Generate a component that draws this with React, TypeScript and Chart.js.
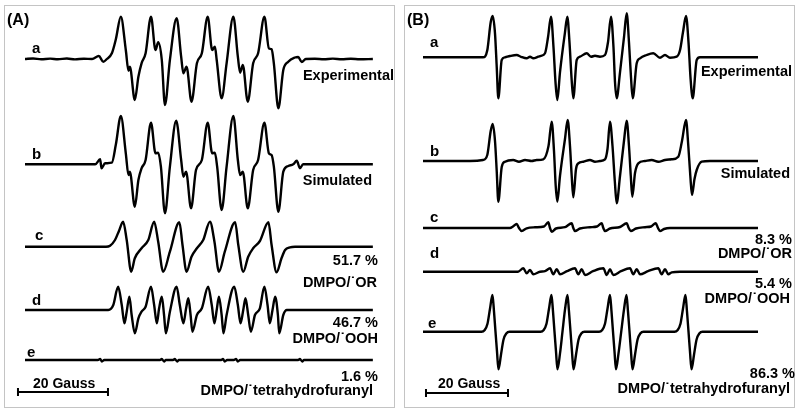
import React, { useEffect, useRef } from "react";
import { Chart, registerables } from "chart.js";

Chart.register(...registerables);

// ---------------- Panel A (4.5 px per Gauss) ----------------
// field positions in Gauss (from start of sweep), intensities in a.u.
const A_A_FIELD = [0,1.8,3.6,5.6,7.3,9.3,11.1,13.1,14.9,16.4,17.4,18.2,19.3,20.2,21.3,22.4,23.0,23.3,24.4,25.2,25.9,26.8,28.0,29.0,29.6,30.4,31.1,32.2,33.7,34.7,35.2,35.9,37.0,38.2,39.3,40.6,41.6,42.2,42.6,43.7,44.8,46.3,47.3,47.8,48.4,49.5,50.7,51.8,53.2,54.2,54.8,55.3,56.3,57.4,58.5,60.0,60.7,61.5,62.4,64.4,66.4,68.4,70.4,72.4,74.4,77.3];
const A_A_INT = [0,0.5,-0.3,0.4,-0.3,0.5,-0.4,0.3,0,3,-2.7,0,5.7,20,42.3,9,-11.7,-7.7,-41,-17.7,-4.3,5.7,42.3,9,16.7,-1,-46,-1,40.7,2.3,-14.3,-7.7,-42.7,-4.3,5.7,42.3,9,12.3,-1,-39.3,-4.3,42.3,2.3,-13.7,-6,-42.7,-4.3,5.7,42.3,10.7,9.7,-4.3,-49.3,-11,-2.7,1.5,2,-3,0,0.3,-0.3,0.4,-0.3,0.3,-0.3,0];

const A_B_FIELD = [0,15.6,16.7,17.0,17.8,19.3,20.2,21.3,22.4,23.0,23.3,24.4,25.2,25.9,26.8,28.0,29.0,29.6,30.2,31.1,32.2,33.6,34.7,35.2,35.8,36.9,38.0,39.3,40.6,41.6,42.2,42.7,43.7,44.8,46.3,47.3,47.8,48.4,49.5,50.7,51.8,53.2,54.2,54.8,55.3,56.3,57.4,58.5,59.6,60.4,61.1,61.8,77.3];
const A_B_INT = [0,0,5,-4,1,1.6,20,48.3,11,-10.7,-7.4,-42.4,-15.7,-4,4.3,41.6,11,11.6,-2.4,-49,-2.4,43.6,4.3,-12.4,-7.4,-44,-5.7,4.3,41.6,11,11.6,-2.4,-45.7,-2.4,48.3,4.3,-10.7,-7.4,-44,-5.7,4.3,41.6,11,9.3,-2.4,-47.4,-7.4,-1.7,0,3.5,-4,0,0];

const A_C_FIELD = [0,18.0,18.9,20.0,20.9,21.8,22.6,23.6,24.4,25.9,27.4,28.7,29.6,30.7,32.2,34.3,35.0,35.9,37.0,38.2,39.6,41.1,42.1,43.1,44.4,46.7,47.4,48.5,49.6,50.7,52.2,54.1,54.8,55.9,57.0,57.8,58.9,60.0,77.3];
const A_C_INT = [0,0,1,6.7,16,25,6.7,-25,-11.6,-1.6,6.7,25,5,-25,-5,24.4,1.7,-25,-10,-1.6,6.7,25,5,-25,-5,24.4,1.7,-25,-10,-1.6,5.7,24.4,1.7,-25.6,-11.6,-3.3,-0.6,0,0];

const A_D_FIELD = [0,18.5,19.6,20.7,21.5,22.1,22.6,23.2,23.7,24.4,25.2,25.9,26.8,28.0,28.7,29.3,29.8,30.4,30.9,31.3,32.2,33.7,34.4,35.2,35.8,36.3,36.8,37.2,38.2,39.3,40.7,41.5,42.1,42.6,43.1,43.7,44.1,44.8,46.5,47.3,47.9,48.5,49.0,49.6,50.2,51.1,52.2,53.2,53.9,54.4,55.0,55.6,56.2,56.5,57.4,58.2,77.3];
const A_D_INT = [0,0,4.7,23.3,5,-13.3,-1.7,13.3,-5,-23.3,-8.3,-1.7,3.3,23.3,5,-13.3,1.7,13.3,-5,-23.3,-1.7,23.3,5,-13.3,1.7,11.7,-5,-21.7,-5,1.7,23.3,5,-13.3,0,13.3,-5,-23.3,-5,23.3,5,-13.3,0,11.7,-5,-21.7,-5,1.7,23.3,5,-13.3,0,13.3,-5,-23.3,-5,0,0];

const A_E_FIELD = [0,16.2,16.7,17.1,17.6,30.0,30.4,30.9,31.3,32.9,33.3,33.8,34.2,43.6,44.0,44.4,44.9,46.4,46.9,47.3,47.8,60.7,61.1,61.6,62.0,77.3];
const A_E_INT = [0,0,1,-1.5,0,0,1,-1.5,0,0,1,-1.5,0,0,1,-1.5,0,0,1,-1.5,0,0,1,-1.5,0,0];

// ---------------- Panel B (4.1 px per Gauss) ----------------
const B_A_FIELD = [0,14.63,15.68,16.51,17.0,17.56,17.98,18.37,19.2,20.0,21.22,22.85,23.9,25.29,26.1,26.9,28.12,28.78,29.76,30.49,31.22,31.83,32.32,32.76,33.41,34.63,35.2,35.73,36.22,36.66,37.49,38.29,39.93,40.98,41.95,43.17,44.39,45.12,45.85,46.46,46.83,47.24,48.05,49.02,49.68,50.24,50.73,51.15,52.12,52.93,54.56,56.17,57.8,59.02,60.24,61.88,62.68,63.41,64.15,64.76,65.24,65.78,66.76,67.56,81.71];
const B_A_INT = [0,0,7,35,41.3,24,-9.4,-41,-2.7,0,1.3,2.3,0.5,-1,0.5,-1,0.6,1.5,4,20,40.6,10,-25,-42.7,-15,25,40.6,15,-20,-41,-2.7,0.6,4,0.6,1.5,0.6,2.3,15,40.6,10,-25,-41,-15,20,44,15,-20,-41,-6,-1,2.3,4,-0.4,2.3,-0.4,0.6,7,25,41.3,15,-20,-41,-2.7,0,0];

const B_B_FIELD = [0,11.46,14.63,15.68,16.51,17.0,17.56,17.98,18.37,19.2,20.0,22.0,23.41,24.88,26.51,27.73,29.34,30.61,31.39,31.95,32.37,32.76,33.41,34.63,35.29,35.85,36.27,36.66,37.32,37.88,39.1,40.73,41.95,43.17,44.39,45.0,45.61,46.22,46.78,47.24,48.05,49.02,49.68,50.24,50.68,51.05,51.71,52.51,54.15,55.78,57.39,59.02,60.66,62.27,63.17,64.15,64.71,65.2,65.61,66.22,66.76,67.98,70.0,81.71];
const B_B_INT = [0,0,1,6,30,37,20,-10,-40.7,-6,-0.7,1,-0.7,1,0,1,1.7,15,39.3,10,-25,-40.7,-15,22,41,15,-15,-36.3,-8,-2.3,-0.7,1,-0.7,0,1.7,12,39.3,15,-20,-42.3,-15,20,40.3,15,-15,-35.7,-12,-2.3,0,1,-0.7,1,1.7,4.3,20,41,15,-15,-34,-18,-9,-0.7,0,0];

const B_C_FIELD = [0,21.22,21.95,22.85,23.41,24.07,25.29,27.32,29.51,30.56,30.98,31.39,32.44,34.63,36.27,36.66,37.07,38.29,40.73,42.44,43.59,43.98,44.39,45.61,48.05,49.68,50.17,50.66,51.95,54.15,55.61,56.76,57.32,57.8,58.78,60.24,81.71];
const B_C_INT = [0,0,1.5,4,0,-3,-0.3,0.7,1.5,5.7,0,-3.7,-0.5,0.8,4.7,0,-3,-0.5,0.8,1.5,4.7,0,-3,-0.5,1,4.7,0,-3,-0.5,0.8,1.5,4.7,0,-3,-1,0,0];

const B_D_FIELD = [0,23.17,24.46,25.29,26.1,26.9,28.54,29.76,30.98,31.78,32.61,33.41,35.12,37.07,37.88,38.71,39.51,41.46,43.98,44.8,45.61,46.41,48.29,50.49,51.29,52.12,52.93,54.88,57.39,58.22,59.02,59.83,60.66,62.68,81.71];
const B_D_INT = [0,0,3.4,-1.6,1.7,-2.6,0,0.5,3.4,-2.6,2.4,-2.6,0.5,3.4,-2.6,2.4,-3.3,0.5,3.4,-3.3,2.4,-3.3,0.5,3.4,-2.6,2.4,-2.6,0.5,3.4,-2.6,2.4,-2.6,-0.6,0,0];

const B_E_FIELD = [0,14.27,15.0,15.73,16.34,16.95,17.32,17.68,18.05,18.41,19.02,19.63,20.37,21.1,28.66,29.39,30.12,30.73,31.34,31.71,32.07,32.44,32.8,33.41,34.02,34.63,35.24,35.61,35.98,36.34,36.71,37.32,37.93,38.66,39.39,42.93,43.66,44.39,45.0,45.61,45.98,46.34,46.71,47.07,47.68,48.35,49.02,49.63,50.0,50.37,50.73,51.1,51.71,52.32,53.05,53.78,61.34,62.07,62.8,63.41,64.02,64.39,64.76,65.12,65.49,66.1,66.71,67.44,68.17,81.71];
const B_E_INT = [0,0,1.5,8,23,36.7,20,0,-20,-37.6,-23,-8,-1.5,0,0,1.5,8,23,36.7,20,0,-20,-37.6,-22,0,22,36.7,20,0,-20,-37.6,-23,-8,-1.5,0,0,1.5,8,23,36.7,20,0,-20,-37.6,-22,0,22,36.7,20,0,-20,-37.6,-23,-8,-1.5,0,0,1.5,8,23,36.7,20,0,-20,-37.6,-23,-8,-1.5,0,0];

// scale bars (Gauss)
const SCALE_BAR_A = [-1.56, 18.44];
const SCALE_BAR_B = [0.73, 20.73];

// ---------------- layout ----------------
const W = 800;
const H = 413;
const FONT = '"Liberation Sans", Arial, Helvetica, sans-serif';
const X_A = { min: -25 / 4.5, max: -25 / 4.5 + W / 4.5 };
const X_B = { min: -423 / 4.1, max: -423 / 4.1 + W / 4.1 };

const TRACES = [
  { f: A_A_FIELD, v: A_A_INT, axis: "xA", base: 59 },
  { f: A_B_FIELD, v: A_B_INT, axis: "xA", base: 164.3 },
  { f: A_C_FIELD, v: A_C_INT, axis: "xA", base: 246.7 },
  { f: A_D_FIELD, v: A_D_INT, axis: "xA", base: 310 },
  { f: A_E_FIELD, v: A_E_INT, axis: "xA", base: 360 },
  { f: B_A_FIELD, v: B_A_INT, axis: "xB", base: 57.3 },
  { f: B_B_FIELD, v: B_B_INT, axis: "xB", base: 161 },
  { f: B_C_FIELD, v: B_C_INT, axis: "xB", base: 228 },
  { f: B_D_FIELD, v: B_D_INT, axis: "xB", base: 271.7 },
  { f: B_E_FIELD, v: B_E_INT, axis: "xB", base: 331.7 },
];

type Label = { t: string; x: number; y: number; s: number; a: "left" | "right" };
const LABELS: Label[] = [
  { t: "(A)", x: 7, y: 25, s: 16, a: "left" },
  { t: "a", x: 32, y: 53, s: 15, a: "left" },
  { t: "Experimental", x: 394, y: 80, s: 14.5, a: "right" },
  { t: "b", x: 32, y: 159, s: 15, a: "left" },
  { t: "Simulated", x: 372, y: 185, s: 14.5, a: "right" },
  { t: "c", x: 35, y: 240, s: 15, a: "left" },
  { t: "51.7 %", x: 378, y: 265, s: 14.5, a: "right" },
  { t: "DMPO/\u02D9OR", x: 377, y: 287, s: 14.5, a: "right" },
  { t: "d", x: 32, y: 305, s: 15, a: "left" },
  { t: "46.7 %", x: 378, y: 327, s: 14.5, a: "right" },
  { t: "DMPO/\u02D9OOH", x: 378, y: 343, s: 14.5, a: "right" },
  { t: "e", x: 27, y: 357, s: 15, a: "left" },
  { t: "1.6 %", x: 378, y: 381, s: 14.5, a: "right" },
  { t: "DMPO/\u02D9tetrahydrofuranyl", x: 373, y: 395, s: 14.5, a: "right" },
  { t: "20 Gauss", x: 33, y: 388, s: 14, a: "left" },
  { t: "(B)", x: 407, y: 25, s: 16, a: "left" },
  { t: "a", x: 430, y: 47, s: 15, a: "left" },
  { t: "Experimental", x: 792, y: 76, s: 14.5, a: "right" },
  { t: "b", x: 430, y: 156, s: 15, a: "left" },
  { t: "Simulated", x: 790, y: 178, s: 14.5, a: "right" },
  { t: "c", x: 430, y: 222, s: 15, a: "left" },
  { t: "8.3 %", x: 792, y: 244, s: 14.5, a: "right" },
  { t: "DMPO/\u02D9OR", x: 792, y: 258, s: 14.5, a: "right" },
  { t: "d", x: 430, y: 258, s: 15, a: "left" },
  { t: "5.4 %", x: 792, y: 288, s: 14.5, a: "right" },
  { t: "DMPO/\u02D9OOH", x: 790, y: 303, s: 14.5, a: "right" },
  { t: "e", x: 428, y: 328, s: 15, a: "left" },
  { t: "86.3 %", x: 795, y: 378, s: 14.5, a: "right" },
  { t: "DMPO/\u02D9tetrahydrofuranyl", x: 790, y: 393, s: 14.5, a: "right" },
  { t: "20 Gauss", x: 438, y: 388, s: 14, a: "left" },
];

function toPoints(field: number[], intensity: number[], base: number) {
  const n = Math.min(field.length, intensity.length);
  const pts: { x: number; y: number }[] = [];
  for (let i = 0; i < n; i++) pts.push({ x: field[i], y: base - intensity[i] });
  return pts;
}

const annotations = {
  id: "eprAnnotations",
  afterDraw(chart: any) {
    const ctx = chart.ctx;
    ctx.save();
    ctx.fillStyle = "#000";
    ctx.textBaseline = "alphabetic";
    for (const l of LABELS) {
      ctx.font = `bold ${l.s}px ${FONT}`;
      ctx.textAlign = l.a;
      ctx.fillText(l.t, l.x, l.y);
    }
    const bars = [
      { scale: chart.scales.xA, g: SCALE_BAR_A, y: 392 },
      { scale: chart.scales.xB, g: SCALE_BAR_B, y: 393 },
    ];
    ctx.strokeStyle = "#000";
    ctx.lineWidth = 2;
    for (const b of bars) {
      const x1 = b.scale.getPixelForValue(b.g[0]);
      const x2 = b.scale.getPixelForValue(b.g[1]);
      ctx.beginPath();
      ctx.moveTo(x1, b.y);
      ctx.lineTo(x2, b.y);
      ctx.moveTo(x1, b.y - 4);
      ctx.lineTo(x1, b.y + 4);
      ctx.moveTo(x2, b.y - 4);
      ctx.lineTo(x2, b.y + 4);
      ctx.stroke();
    }
    ctx.restore();
  },
};

export default function App() {
  const ref = useRef<HTMLCanvasElement | null>(null);
  useEffect(() => {
    if (!ref.current) return;
    const chart = new Chart(ref.current, {
      type: "line",
      data: {
        datasets: TRACES.map((t) => ({
          data: toPoints(t.f, t.v, t.base),
          xAxisID: t.axis,
          yAxisID: "y",
          borderColor: "#000",
          borderWidth: 2.4,
          pointRadius: 0,
          fill: false,
          cubicInterpolationMode: "monotone" as const,
          borderJoinStyle: "round" as const,
        })),
      },
      options: {
        responsive: false,
        maintainAspectRatio: false,
        animation: false,
        events: [],
        layout: { padding: 0 },
        plugins: { legend: { display: false }, tooltip: { enabled: false } },
        scales: {
          xA: { type: "linear", display: false, min: X_A.min, max: X_A.max },
          xB: { type: "linear", display: false, min: X_B.min, max: X_B.max },
          y: { type: "linear", display: false, min: 0, max: H, reverse: true },
        },
      },
      plugins: [annotations],
    });
    return () => chart.destroy();
  }, []);

  const box = (left: number): React.CSSProperties => ({
    position: "absolute",
    left,
    top: 5,
    width: 391,
    height: 403,
    border: "1px solid #c4c4c4",
    boxSizing: "border-box",
  });

  return (
    <div style={{ position: "absolute", left: 0, top: 0, width: W, height: H, background: "#fff", overflow: "hidden" }}>
      <div style={box(4)} />
      <div style={box(404)} />
      <canvas ref={ref} width={W} height={H} style={{ position: "absolute", left: 0, top: 0, width: W, height: H, display: "block" }} />
    </div>
  );
}
